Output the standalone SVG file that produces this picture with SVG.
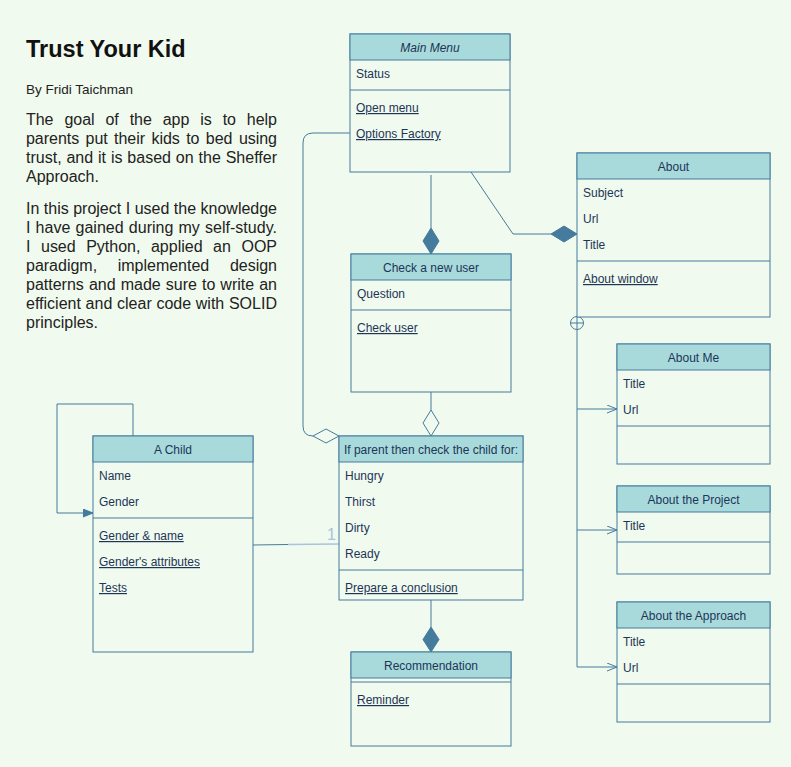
<svg xmlns="http://www.w3.org/2000/svg" width="791" height="767" viewBox="0 0 791 767">
<style>
.hdr{fill:#a8dadc;stroke:#457b9d;stroke-width:1}
.box{fill:#f1faee;stroke:#457b9d;stroke-width:1}
.div{stroke:#457b9d;stroke-width:1}
.t{font-family:"Liberation Sans",Arial,sans-serif;font-size:12px;fill:#1d3557}
.c{text-anchor:middle}
.u{text-decoration:underline}
.ln{fill:none;stroke:#457b9d;stroke-width:1}
.fd{fill:#457b9d;stroke:#457b9d;stroke-width:1}
.hd{fill:#f1faee;stroke:#457b9d;stroke-width:1}
.p{font-family:"Liberation Sans",Arial,sans-serif;font-size:16px;fill:#222}
</style>
<defs>
<marker id="open" markerWidth="12" markerHeight="10" refX="10" refY="4" orient="auto" markerUnits="userSpaceOnUse">
<path d="M0,0 L10,4 L0,8" fill="none" stroke="#457b9d" stroke-width="1"/>
</marker>
<marker id="block" markerWidth="12" markerHeight="10" refX="10" refY="4" orient="auto" markerUnits="userSpaceOnUse">
<path d="M0,0 L10,4 L0,8 Z" fill="#457b9d" stroke="#457b9d" stroke-width="1"/>
</marker>
</defs>
<rect x="0" y="0" width="791" height="767" fill="#f1faee"/>

<g id="intro">
<text x="26" y="57" font-family="Liberation Sans,Arial,sans-serif" font-size="23.5" font-weight="bold" fill="#111">Trust Your Kid</text>
<text x="26" y="93.5" font-family="Liberation Sans,Arial,sans-serif" font-size="13.5" fill="#222">By Fridi Taichman</text>
<text class="p" x="26" y="125" word-spacing="6.5" textLength="251" lengthAdjust="spacing">The goal of the app is to help</text>
<text class="p" x="26" y="144" word-spacing="2" textLength="251" lengthAdjust="spacing">parents put their kids to bed using</text>
<text class="p" x="26" y="163" word-spacing="0.4" textLength="251" lengthAdjust="spacing">trust, and it is based on the Sheffer</text>
<text class="p" x="26" y="182">Approach.</text>
<text class="p" x="26" y="214" word-spacing="0.1" textLength="251" lengthAdjust="spacing">In this project I used the knowledge</text>
<text class="p" x="26" y="233" word-spacing="0.6" textLength="251" lengthAdjust="spacing">I have gained during my self-study.</text>
<text class="p" x="26" y="252" word-spacing="6.1" textLength="251" lengthAdjust="spacing">I used Python, applied an OOP</text>
<text class="p" x="26" y="271" word-spacing="16.2" textLength="251" lengthAdjust="spacing">paradigm, implemented design</text>
<text class="p" x="26" y="290" word-spacing="0.6" textLength="251" lengthAdjust="spacing">patterns and made sure to write an</text>
<text class="p" x="26" y="309" word-spacing="0.2" textLength="251" lengthAdjust="spacing">efficient and clear code with SOLID</text>
<text class="p" x="26" y="328">principles.</text>
</g>

<g id="connectors">
<path class="ln" d="M431,175 L431,228"/>
<path class="fd" d="M431,228 L439,241 L431,254 L423,241 Z"/>
<path class="ln" d="M471,172 L513,234 L551,234"/>
<path class="fd" d="M551,234 L564,226 L577,234 L564,242 Z"/>
<path class="ln" d="M431,392 L431,410"/>
<path class="hd" d="M431,410 L439,423 L431,436 L423,423 Z"/>
<path class="ln" d="M431,600 L431,627"/>
<path class="fd" d="M431,627 L439,639.5 L431,652 L423,639.5 Z"/>
<path class="ln" d="M350,133 L313,133 Q303,133 303,143 L303,426 Q303,436 313,436"/>
<path class="hd" d="M313,436 L326,429 L339,436 L326,443 Z"/>
<path class="ln" d="M133,436 L133,404 L57,404 L57,513 L93,513" marker-end="url(#block)"/>
<path class="ln" d="M253,545 L288,544.5"/>
<path d="M288,544.5 L339,544" fill="none" stroke="#a9c4dc" stroke-width="1.5"/>
<text x="336" y="540" font-family="Liberation Sans,Arial,sans-serif" font-size="16" fill="#a9c4dc" text-anchor="end">1</text>
<circle cx="577" cy="323" r="6.5" class="hd"/>
<path class="ln" d="M570.5,323 L583.5,323 M577,316.5 L577,667"/>
<path class="ln" d="M577,409 L617,409" marker-end="url(#open)"/>
<path class="ln" d="M577,530 L617,530" marker-end="url(#open)"/>
<path class="ln" d="M577,667 L617,667" marker-end="url(#open)"/>
</g>

<g id="main-menu">
<rect class="box" x="350" y="34" width="160" height="138"/>
<rect class="hdr" x="350" y="34" width="160" height="26"/>
<text class="t c" x="430" y="52" font-style="italic">Main Menu</text>
<text class="t" x="356" y="78">Status</text>
<line class="div" x1="350" y1="90" x2="510" y2="90"/>
<text class="t u" x="356" y="112">Open menu</text>
<text class="t u" x="356" y="138">Options Factory</text>
</g>

<g id="check-new-user">
<rect class="box" x="351" y="254" width="160" height="138"/>
<rect class="hdr" x="351" y="254" width="160" height="26"/>
<text class="t c" x="431" y="272">Check a new user</text>
<text class="t" x="357" y="298">Question</text>
<line class="div" x1="351" y1="310" x2="511" y2="310"/>
<text class="t u" x="357" y="332">Check user</text>
</g>

<g id="about">
<rect class="box" x="577" y="153" width="193" height="164"/>
<rect class="hdr" x="577" y="153" width="193" height="26"/>
<text class="t c" x="673.5" y="171">About</text>
<text class="t" x="583" y="197">Subject</text>
<text class="t" x="583" y="223">Url</text>
<text class="t" x="583" y="249">Title</text>
<line class="div" x1="577" y1="261" x2="770" y2="261"/>
<text class="t u" x="583" y="283">About window</text>
</g>

<g id="about-me">
<rect class="box" x="617" y="344" width="153" height="120"/>
<rect class="hdr" x="617" y="344" width="153" height="26"/>
<text class="t c" x="693.5" y="362">About Me</text>
<text class="t" x="623" y="388">Title</text>
<text class="t" x="623" y="414">Url</text>
<line class="div" x1="617" y1="426" x2="770" y2="426"/>
</g>

<g id="about-project">
<rect class="box" x="617" y="486" width="153" height="88"/>
<rect class="hdr" x="617" y="486" width="153" height="26"/>
<text class="t c" x="693.5" y="504">About the Project</text>
<text class="t" x="623" y="530">Title</text>
<line class="div" x1="617" y1="542" x2="770" y2="542"/>
</g>

<g id="about-approach">
<rect class="box" x="617" y="602" width="153" height="120"/>
<rect class="hdr" x="617" y="602" width="153" height="26"/>
<text class="t c" x="693.5" y="620">About the Approach</text>
<text class="t" x="623" y="646">Title</text>
<text class="t" x="623" y="672">Url</text>
<line class="div" x1="617" y1="684" x2="770" y2="684"/>
</g>

<g id="a-child">
<rect class="box" x="93" y="436" width="160" height="216"/>
<rect class="hdr" x="93" y="436" width="160" height="26"/>
<text class="t c" x="173" y="454">A Child</text>
<text class="t" x="99" y="480">Name</text>
<text class="t" x="99" y="506">Gender</text>
<line class="div" x1="93" y1="518" x2="253" y2="518"/>
<text class="t u" x="99" y="540">Gender &amp; name</text>
<text class="t u" x="99" y="566">Gender's attributes</text>
<text class="t u" x="99" y="592">Tests</text>
</g>

<g id="check-child">
<rect class="box" x="339" y="436" width="184" height="164"/>
<rect class="hdr" x="339" y="436" width="184" height="26"/>
<text class="t c" x="431" y="454">If parent then check the child for:</text>
<text class="t" x="345" y="480">Hungry</text>
<text class="t" x="345" y="506">Thirst</text>
<text class="t" x="345" y="532">Dirty</text>
<text class="t" x="345" y="558">Ready</text>
<line class="div" x1="339" y1="570" x2="523" y2="570"/>
<text class="t u" x="345" y="592">Prepare a conclusion</text>
</g>

<g id="recommendation">
<rect class="box" x="351" y="652" width="160" height="94"/>
<rect class="hdr" x="351" y="652" width="160" height="26"/>
<text class="t c" x="431" y="670">Recommendation</text>
<line class="div" x1="351" y1="682" x2="511" y2="682"/>
<text class="t u" x="357" y="704">Reminder</text>
</g>
</svg>
